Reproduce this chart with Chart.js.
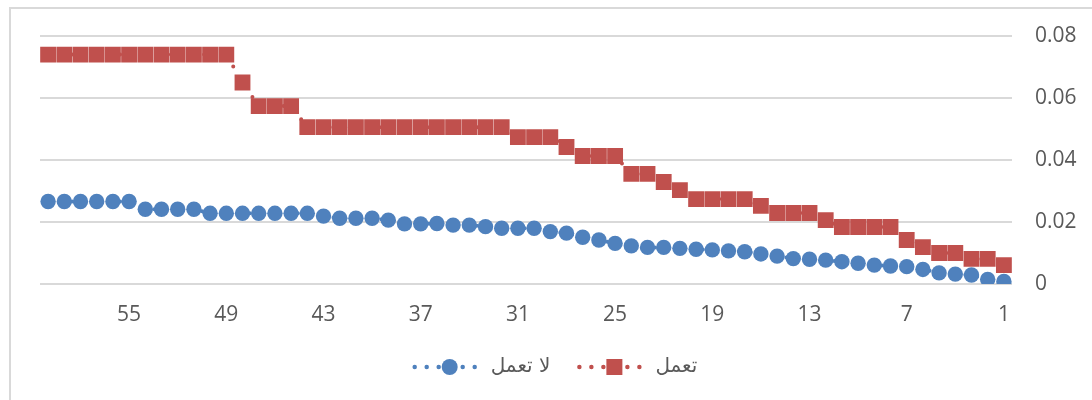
<!DOCTYPE html>
<html>
<head>
<meta charset="utf-8">
<script src="https://cdn.jsdelivr.net/npm/chart.js@4"></script>
<style>
  html, body { margin: 0; padding: 0; background: #ffffff; overflow: hidden; }
  #wrap { position: relative; width: 1092px; height: 400px; }
  #frame { position: absolute; left: 9px; top: 7px; width: 1200px; height: 500px; border: 2px solid #d9d9d9; box-sizing: border-box; }
  canvas { position: absolute; left: 0; top: 0; }
</style>
</head>
<body>
<div id="wrap">
  <div id="frame"></div>
  <canvas id="c" width="1092" height="400"></canvas>
</div>
<script>
// Categories (x axis runs from 60 on the left down to 1 on the right)
const categories = [60,59,58,57,56,55,54,53,52,51,50,49,48,47,46,45,44,43,42,41,40,39,38,37,36,35,34,33,32,31,30,29,28,27,26,25,24,23,22,21,20,19,18,17,16,15,14,13,12,11,10,9,8,7,6,5,4,3,2,1];

// Tick labels shown on the x axis
const xTickLabels = ['55','49','43','37','31','25','19','13','7','1'];

// Y tick values
const yTicks = [0, 0.02, 0.04, 0.06, 0.08];

// Series names
const seriesWork = 'تعمل';
const seriesNoWork = 'لا تعمل';

// Series values (same order as categories)
const workValues = [
  0.074,0.074,0.074,0.074,0.074,0.074,0.074,0.074,0.074,0.074,0.074,0.074,
  0.065,
  0.0574,0.0574,0.0574,
  0.0506,0.0506,0.0506,0.0506,0.0506,0.0506,0.0506,0.0506,0.0506,0.0506,0.0506,0.0506,0.0506,
  0.0474,0.0474,0.0474,
  0.0442,
  0.0413,0.0413,0.0413,
  0.0355,0.0355,
  0.0329,
  0.0303,
  0.0274,0.0274,0.0274,0.0274,
  0.0252,
  0.0229,0.0229,0.0229,
  0.0206,
  0.0184,0.0184,0.0184,0.0184,
  0.0142,
  0.0119,
  0.0100,0.0100,
  0.0081,0.0081,
  0.0061
];

const noWorkValues = [
  0.0266,0.0266,0.0266,0.0266,0.0266,0.0266,
  0.0241,0.0241,0.0241,0.0241,
  0.0228,0.0228,0.0228,0.0228,0.0228,0.0228,0.0228,
  0.0219,
  0.0212,0.0212,0.0212,
  0.0206,
  0.0194,0.0194,0.0195,0.0190,0.0190,0.0185,0.0180,0.0180,0.0180,
  0.0169,0.0164,0.0151,0.0142,0.0131,0.0123,0.0118,0.0118,0.0115,0.0112,
  0.0110,0.0107,0.0104,0.0097,0.0090,0.0082,0.0080,0.0077,0.0072,0.0067,
  0.0061,0.0058,0.0056,0.0047,0.0036,0.0032,0.0029,0.0015,0.0008
];

const RED = '#C0504D';
const BLUE = '#4F81BD';
const TICK_COLOR = '#595959';
const NUM_FONT = 'Open Sans';

const lineCommon = {
  borderWidth: 4,
  borderDash: [0, 12],
  borderCapStyle: 'round',
  tension: 0,
  fill: false,
  pointBorderWidth: 0,
  pointHoverRadius: 0
};

const legendPlugin = {
  id: 'customLegend',
  afterDraw(chart) {
    const ctx = chart.ctx;
    const items = [chart.data.datasets[1], chart.data.datasets[0]];
    const y = 367;
    const lineLen = 60;
    const textOffset = 76;
    const gapItems = 29;
    ctx.save();
    ctx.font = '20px "DejaVu Sans"';
    const widths = items.map(d => textOffset + ctx.measureText(d.label).width);
    const total = widths.reduce((a, b) => a + b, 0) + gapItems * (items.length - 1);
    let x = 556 - total / 2;
    items.forEach((d, i) => {
      // dotted line
      ctx.strokeStyle = d.borderColor;
      ctx.lineWidth = 4.5;
      ctx.lineCap = 'round';
      ctx.setLineDash([0, 12]);
      ctx.beginPath();
      ctx.moveTo(x, y);
      ctx.lineTo(x + lineLen + 0.5, y);
      ctx.stroke();
      ctx.setLineDash([]);
      // marker
      const mx = x + 35;
      ctx.fillStyle = d.pointBackgroundColor;
      if (d.pointStyle === 'rect') {
        const s = 16;
        ctx.fillRect(mx - s / 2, y - s / 2, s, s);
      } else {
        ctx.beginPath();
        ctx.arc(mx, y, 8, 0, Math.PI * 2);
        ctx.fill();
      }
      // text
      ctx.fillStyle = TICK_COLOR;
      ctx.textAlign = 'left';
      ctx.textBaseline = 'middle';
      ctx.fillText(d.label, x + textOffset, y);
      x += widths[i] + gapItems;
    });
    ctx.restore();
  }
};

new Chart(document.getElementById('c'), {
  type: 'line',
  data: {
    labels: categories.map(String),
    datasets: [
      Object.assign({}, lineCommon, {
        label: seriesWork,
        data: workValues,
        borderColor: RED,
        backgroundColor: RED,
        pointStyle: 'rect',
        pointRadius: 11.2,
        pointBackgroundColor: RED,
        pointBorderColor: RED
      }),
      Object.assign({}, lineCommon, {
        label: seriesNoWork,
        data: noWorkValues,
        borderColor: BLUE,
        backgroundColor: BLUE,
        pointStyle: 'circle',
        pointRadius: 7.7,
        pointBackgroundColor: BLUE,
        pointBorderColor: BLUE
      })
    ]
  },
  options: {
    responsive: false,
    devicePixelRatio: 1,
    animation: false,
    events: [],
    layout: { padding: { left: 40, top: 36, right: 0, bottom: 0 } },
    plugins: {
      legend: { display: false },
      tooltip: { enabled: false },
      title: { display: false }
    },
    scales: {
      x: {
        type: 'category',
        offset: true,
        grid: { display: false, drawTicks: false },
        border: { display: false },
        ticks: {
          autoSkip: false,
          maxRotation: 0,
          minRotation: 0,
          padding: 18,
          color: TICK_COLOR,
          font: { family: NUM_FONT, size: 21 },
          callback: function(value) {
            const lab = this.getLabelForValue(value);
            return xTickLabels.includes(lab) ? lab : null;
          }
        },
        afterFit: (scale) => { scale.height = 116; }
      },
      y: {
        position: 'right',
        min: 0,
        max: 0.08,
        afterBuildTicks: (scale) => { scale.ticks = yTicks.map(v => ({ value: v })); },
        grid: { color: '#d9d9d9', lineWidth: 2, drawTicks: false },
        border: { display: false },
        ticks: {
          padding: 23,
          color: TICK_COLOR,
          font: { family: NUM_FONT, size: 21 },
          callback: (v) => (v === 0 ? '0' : v.toFixed(2))
        },
        afterFit: (scale) => { scale.width = 80; }
      }
    }
  },
  plugins: [legendPlugin]
});
</script>
</body>
</html>
